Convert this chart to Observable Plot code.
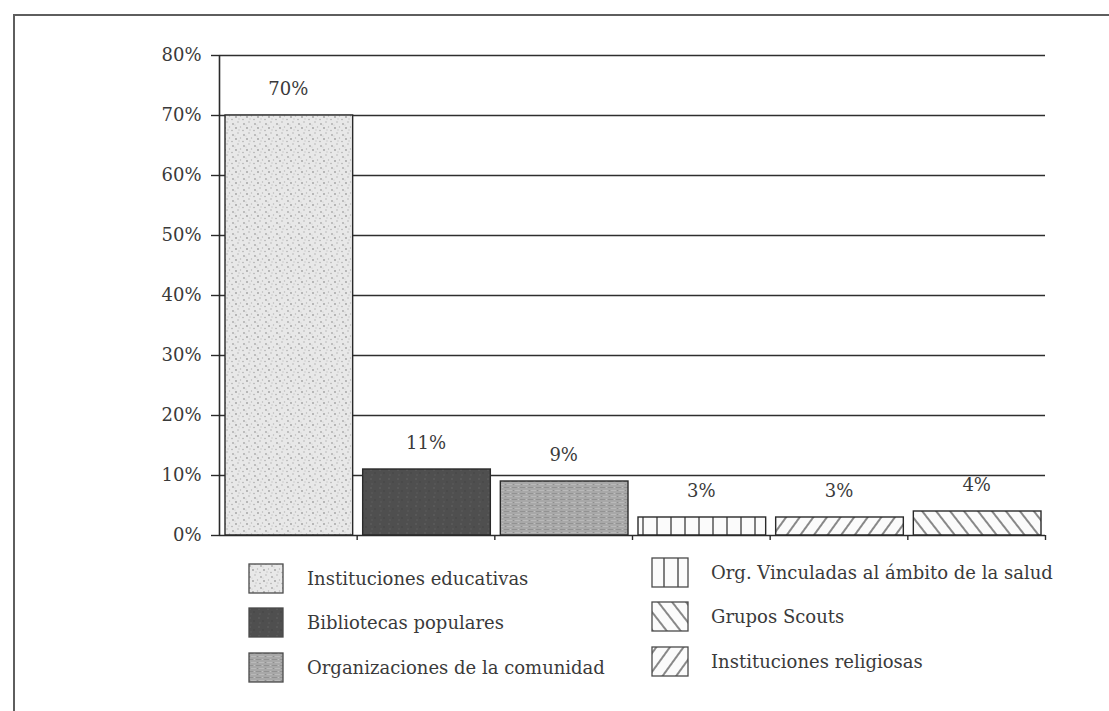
<!DOCTYPE html>
<html><head><meta charset="utf-8">
<script src="https://cdn.jsdelivr.net/npm/d3@7"></script>
<script src="https://cdn.jsdelivr.net/npm/@observablehq/plot@0.6"></script>
<style>
html,body{margin:0;padding:0;background:#fff;}
body{width:1109px;height:711px;overflow:hidden;position:relative;font-family:"DejaVu Serif",serif;color:#3a3a3a;}
#frame{position:absolute;left:13px;top:14px;width:1110px;height:710px;border-left:2px solid #5e5e5e;border-top:2px solid #5e5e5e;pointer-events:none;}
#chart{position:absolute;left:0;top:0;}
.col{position:absolute;}
.item{display:flex;align-items:center;height:44.5px;font-size:18px;white-space:nowrap;}
.item svg{flex:none;}
</style></head><body>
<svg id="defs" width="0" height="0" style="position:absolute;left:0;top:0">
<defs>
<pattern id="p-edu" patternUnits="userSpaceOnUse" width="11" height="11">
<rect width="11" height="11" fill="#e8e8e8"/>
<circle cx="2" cy="3" r="0.9" fill="#a9a9a9"/><circle cx="7" cy="1" r="0.8" fill="#b5b5b5"/>
<circle cx="5" cy="7" r="0.9" fill="#a0a0a0"/><circle cx="9.5" cy="6" r="0.7" fill="#b8b8b8"/>
<circle cx="1" cy="9.5" r="0.8" fill="#b0b0b0"/><circle cx="4" cy="4" r="0.6" fill="#cacaca"/>
<circle cx="8" cy="9" r="0.7" fill="#c4c4c4"/>
</pattern>
<pattern id="p-bib" patternUnits="userSpaceOnUse" width="9" height="9">
<rect width="9" height="9" fill="#4f4f4f"/>
<circle cx="2" cy="2" r="0.8" fill="#626262"/><circle cx="6" cy="5" r="0.8" fill="#444"/>
<circle cx="3" cy="7" r="0.7" fill="#5e5e5e"/>
</pattern>
<pattern id="p-org" patternUnits="userSpaceOnUse" width="8" height="6">
<rect width="8" height="6" fill="#a8a8a8"/>
<rect x="0" y="1" width="5" height="0.8" fill="#8c8c8c"/><rect x="3" y="4" width="5" height="0.8" fill="#bdbdbd"/>
<circle cx="6.5" cy="1.5" r="0.6" fill="#c4c4c4"/><circle cx="1.5" cy="4.5" r="0.6" fill="#8a8a8a"/>
</pattern>
<pattern id="p-sal" patternUnits="userSpaceOnUse" width="14" height="10">
<rect width="14" height="10" fill="#fbfbfb"/>
<line x1="13" y1="0" x2="13" y2="10" stroke="#4a4a4a" stroke-width="1.4"/>
</pattern>
<pattern id="p-rel" patternUnits="userSpaceOnUse" width="11" height="10" patternTransform="rotate(36)">
<rect width="11" height="10" fill="#fbfbfb"/>
<line x1="5" y1="0" x2="5" y2="10" stroke="#4a4a4a" stroke-width="1.3"/>
</pattern>
<pattern id="p-sco" patternUnits="userSpaceOnUse" width="11" height="10" patternTransform="rotate(-38)">
<rect width="11" height="10" fill="#fbfbfb"/>
<line x1="5" y1="0" x2="5" y2="10" stroke="#4a4a4a" stroke-width="1.3"/>
</pattern>
</defs>
</svg>
<div id="chart"></div>
<div id="legL" class="col" style="left:248px;top:556px"></div>
<div id="legR" class="col" style="left:651px;top:550px"></div>
<div id="frame"></div>
<script>
// ---- data ----
const categories = [
  "Instituciones educativas",
  "Bibliotecas populares",
  "Organizaciones de la comunidad",
  "Org. Vinculadas al ámbito de la salud",
  "Instituciones religiosas",
  "Grupos Scouts"
];
const values = [0.70, 0.11, 0.09, 0.03, 0.03, 0.04];
const valueLabels = ["70%", "11%", "9%", "3%", "3%", "4%"];
const patterns = ["url(#p-edu)", "url(#p-bib)", "url(#p-org)", "url(#p-sal)", "url(#p-rel)", "url(#p-sco)"];
const yTicks = [0, 0.1, 0.2, 0.3, 0.4, 0.5, 0.6, 0.7, 0.8];
const legendLeft = ["Instituciones educativas", "Bibliotecas populares", "Organizaciones de la comunidad"];
const legendRight = ["Org. Vinculadas al ámbito de la salud", "Grupos Scouts", "Instituciones religiosas"];

const data = categories.map((c, i) => ({cat: c, i, value: values[i], label: valueLabels[i]}));
const boundaries = d3.range(1, categories.length + 1);

const plot = Plot.plot({
  width: 1109, height: 560,
  marginLeft: 219, marginRight: 64, marginTop: 55, marginBottom: 25,
  style: {fontFamily: "'DejaVu Serif', serif", fontSize: "18px", color: "#3a3a3a", background: "transparent"},
  x: {domain: [0, categories.length], axis: null},
  y: {domain: [0, 0.8], axis: null},
  color: {domain: categories, range: patterns},
  marks: [
    Plot.ruleY(yTicks.filter(d => d > 0), {stroke: "#2e2e2e", strokeWidth: 1.6}),
    Plot.rectY(data, {x1: "i", x2: d => d.i + 1, y: "value", fill: "cat", stroke: "#2a2a2a", strokeWidth: 1.4, insetLeft: 6, insetRight: 4}),
    Plot.text(data, {x: d => d.i + 0.5, y: "value", text: "label", dy: -26, fill: "#3a3a3a", fontSize: 18}),
    Plot.axisY({ticks: yTicks, tickFormat: d3.format(".0%"), tickSize: 8, tickPadding: 10, label: null, stroke: "#2a2a2a", strokeWidth: 1.4, fill: "#3a3a3a", fontSize: 18}),
    Plot.axisX({ticks: boundaries, tickFormat: () => "", tickSize: 5, label: null, stroke: "#2a2a2a", strokeWidth: 1.4}),
    Plot.ruleX([0], {stroke: "#2a2a2a", strokeWidth: 1.6}),
    Plot.ruleY([0], {stroke: "#2a2a2a", strokeWidth: 1.6})
  ]
});
document.getElementById("chart").appendChild(plot);

const colorScale = plot.scale("color");
function fillFor(cat) { return colorScale.range[colorScale.domain.indexOf(cat)]; }
function buildLegend(el, items, w, gap) {
  items.forEach(cat => {
    const div = document.createElement("div");
    div.className = "item";
    div.innerHTML = `<svg width="${w}" height="31" style="margin-right:${gap}px"><rect x="1" y="1" width="${w-2}" height="29" fill="${fillFor(cat)}" stroke="#4a4a4a" stroke-width="1.3"/></svg><span>${cat}</span>`;
    el.appendChild(div);
  });
}
buildLegend(document.getElementById("legL"), legendLeft, 36, 23);
buildLegend(document.getElementById("legR"), legendRight, 38, 22);
</script>
</body></html>
